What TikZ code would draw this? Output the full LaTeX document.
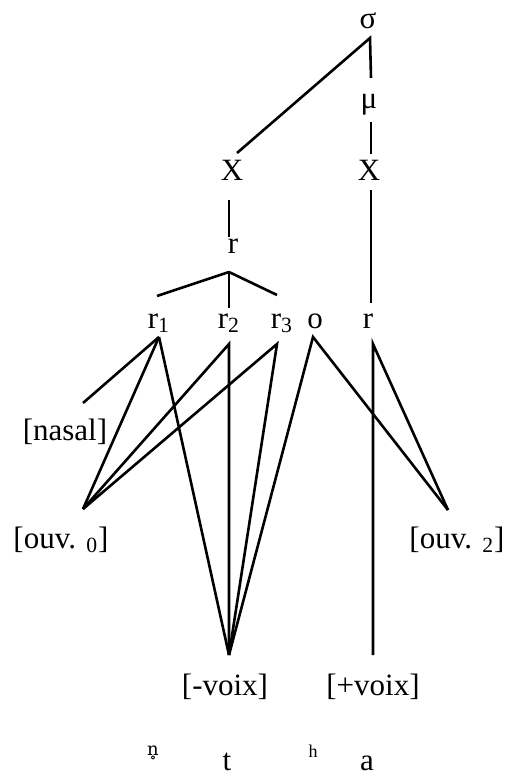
\documentclass[tikz,border=0pt]{standalone}
\usepackage{fontspec}
\setmainfont{Liberation Serif}
\newfontfamily\ipafont{DejaVu Serif}
\begin{document}
\begin{tikzpicture}[x=0.5pt, y=-0.5pt,
            seg/.style={line width=1.3pt},
            lab/.style={inner sep=0pt, anchor=base, font=\fontsize{15.5}{18}\selectfont},
            tiny/.style={inner sep=0pt, anchor=base, font=\fontsize{9}{11}\selectfont}
        ]
        \useasboundingbox (0,0) rectangle (510,776);
        \def\l{229}
        \def\m{371}
        \def\v{373}

        \node[lab] (sigma) at (368,28) {σ};
        \node[lab] (mu) at (369,108) {μ};
        \node[lab] (Xl) at (232,180) {X};
        \node[lab] (Xr) at (369,180) {X};
        \node[lab] (rt) at (233,253) {r};
        \node[lab] (r1) at (159,328) {r\textsubscript{1}};
        \node[lab] (r2) at (\l,328) {r\textsubscript{2}};
        \node[lab] (r3) at (282,328) {r\textsubscript{3}};
        \node[lab] (o) at (315,328) {o};
        \node[lab] (rr) at (368,328) {r};
        \node[lab] (nasal) at (65,440) {[nasal]};
        \node[lab] (ouv0) at (61,548) {[ouv. \textsubscript{0}]};
        \node[lab] (ouv2) at (457,548) {[ouv. \textsubscript{2}]};
        \node[lab] (minus) at (225,695) {[-voix]};
        \node[lab] (plus) at (\v,695) {[+voix]};
        \node[tiny] (nring) at (153,755) {\ipafont n̥};
        \node[lab] (t) at (227,770) {t};
        \node[tiny] (h) at (313,757) {h};
        \node[lab] (a) at (367,770) {a};

        % attachment points
        \coordinate (sigma-b) at (370,38);
        \coordinate (mu-t) at (\m,78);
        \coordinate (mu-b) at (\m,122);
        \coordinate (Xl-t) at (237,153);
        \coordinate (Xr-t) at (\m,154);
        \coordinate (Xl-b) at (\l,200);
        \coordinate (Xr-b) at (\m,190);
        \coordinate (rt-t) at (\l,237);
        \coordinate (rt-b) at (\l,272);
        \coordinate (r1-t) at (157,296);
        \coordinate (r2-t) at (\l,308);
        \coordinate (r3-t) at (277,295);
        \coordinate (rr-t) at (\m,303);
        \coordinate (r1-b) at (159,337);
        \coordinate (r2-b) at (\l,344);
        \coordinate (r3-b) at (277,344);
        \coordinate (o-b) at (313,337);
        \coordinate (rr-b) at (\v,344);
        \coordinate (nasal-t) at (83,403);
        \coordinate (ouv0-t) at (83,509);
        \coordinate (ouv2-t) at (448,510);
        \coordinate (minus-t) at (\l,655);
        \coordinate (plus-t) at (\v,655);

        \draw[seg] (Xl-t) -- (sigma-b) -- (mu-t);
        \draw[seg] (mu-b) -- (Xr-t);
        \draw[seg] (Xr-b) -- (rr-t);
        \draw[seg] (Xl-b) -- (rt-t);
        \foreach \k in {r1-t,r2-t,r3-t} {
            \draw[seg] (rt-b) -- (\k);
        }
        \foreach \k in {nasal-t,ouv0-t,minus-t} {
            \draw[seg] (r1-b) -- (\k);
        }
        \foreach \s in {r2-b,r3-b} {
            \draw[seg] (ouv0-t) -- (\s) -- (minus-t);
        }
        \draw[seg] (minus-t) -- (o-b) -- (ouv2-t);
        \draw[seg] (plus-t) -- (rr-b) -- (ouv2-t);
    \end{tikzpicture}
\end{document}
